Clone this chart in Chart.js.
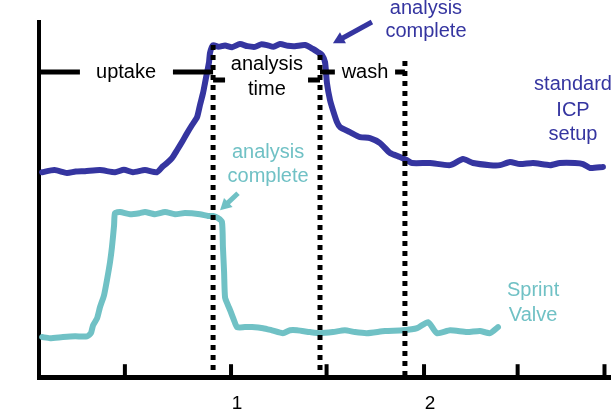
<!DOCTYPE html>
<html>
<head>
<meta charset="utf-8">
<script src="https://cdn.jsdelivr.net/npm/chart.js@4.4.1/dist/chart.umd.min.js"></script>
<style>
  html, body { margin: 0; padding: 0; background: #fff; overflow: hidden; }
  #wrap { width: 611px; height: 409px; overflow: hidden; }
  canvas { display: block; }
</style>
</head>
<body>
<div id="wrap"><canvas id="chart" width="640" height="430"></canvas></div>
<script>
// Standard ICP setup (blue trace)
const icpTime = [0.016, 0.080, 0.145, 0.190, 0.238, 0.316, 0.394, 0.440, 0.487, 0.549, 0.611, 0.642, 0.663, 0.689,
  0.715, 0.741, 0.767, 0.793, 0.819, 0.834, 0.850, 0.860, 0.870, 0.881, 0.886, 0.902, 0.930, 0.964, 1.000, 1.041,
  1.080, 1.119, 1.150, 1.181, 1.215, 1.249, 1.290, 1.326, 1.378, 1.420, 1.446, 1.466, 1.482, 1.492, 1.508, 1.523,
  1.544, 1.560, 1.611, 1.663, 1.715, 1.767, 1.819, 1.870, 1.907, 1.933, 2.026, 2.130, 2.197, 2.249, 2.337, 2.389,
  2.440, 2.492, 2.560, 2.648, 2.699, 2.777, 2.819, 2.855, 2.922];
const icpSignal = [57.7, 58.3, 57.5, 57.9, 58.0, 58.3, 57.7, 58.4, 57.7, 58.3, 57.7, 59.4, 60.3, 61.7,
  63.9, 66.2, 68.7, 71.0, 73.2, 76.6, 80.0, 82.8, 85.6, 88.7, 91.3, 93.5, 93.0, 93.4, 92.9, 93.8,
  93.2, 93.0, 93.7, 93.5, 93.0, 93.8, 93.3, 93.2, 93.5, 92.4, 91.5, 90.7, 88.7, 82.8, 78.0, 75.2,
  71.8, 70.4, 69.0, 67.6, 67.3, 65.9, 63.1, 62.0, 61.1, 60.3, 60.3, 59.7, 61.4, 60.3, 59.7, 59.7,
  60.6, 60.0, 60.3, 59.7, 60.3, 60.3, 60.0, 58.9, 59.2];

// Sprint Valve (cyan trace)
const valveTime = [0.016, 0.057, 0.124, 0.187, 0.249, 0.269, 0.280, 0.301, 0.316, 0.337, 0.352, 0.368, 0.378, 0.389,
  0.394, 0.420, 0.472, 0.523, 0.549, 0.601, 0.653, 0.705, 0.756, 0.834, 0.876, 0.902, 0.927, 0.948, 0.953, 0.959,
  0.964, 0.979, 0.990, 1.010, 1.026, 1.067, 1.104, 1.161, 1.207, 1.264, 1.301, 1.337, 1.404, 1.456, 1.523, 1.585,
  1.637, 1.699, 1.793, 1.886, 1.959, 2.016, 2.062, 2.130, 2.218, 2.285, 2.337, 2.378];
const valveSignal = [11.3, 11.0, 11.3, 11.5, 11.5, 12.4, 14.6, 16.6, 19.7, 23.1, 27.3, 32.4, 36.6, 42.8,
  46.2, 46.5, 45.9, 46.2, 46.5, 45.9, 46.5, 45.9, 46.2, 45.9, 45.4, 45.4, 44.8, 43.7, 36.6, 29.6,
  22.5, 20.3, 18.9, 16.1, 14.1, 14.1, 14.1, 13.8, 13.2, 12.4, 13.2, 13.2, 12.7, 12.4, 12.7, 13.2,
  12.7, 12.4, 13.0, 13.2, 13.8, 15.5, 12.4, 13.2, 12.7, 13.0, 12.4, 14.1];

// dotted phase dividers
const dividerTime = [0.902, 1.456, 1.896];
const dividerTop = [93.5, 90.7, 89.0];

// phase bracket segments
const bracketStart = [0, 0.694, 0.902, 1.394, 1.456, 1.845];
const bracketEnd = [0.212, 0.902, 0.964, 1.456, 1.533, 1.896];
const bracketLevel = [85.9, 85.9, 83.7, 83.7, 85.9, 85.9];

// axis ticks
const tickMarks = [0.445, 0.995, 1.49, 1.995, 2.48, 2.93];
const tickLabels = [1, 2, 3];

const BLUE = '#3535a0';
const CYAN = '#70c1c5';
const FONT = '"Liberation Sans", Arial, sans-serif';

const notes = [
  { lines: ['uptake'], x: 0.451, y: 85.9, color: '#000' },
  { lines: ['analysis', 'time'], x: 1.181, y: [87.9, 80.9], color: '#000' },
  { lines: ['wash'], x: 1.689, y: 85.9, color: '#000' },
  { lines: ['analysis', 'complete'], x: 2.005, y: [103.9, 97.2], color: BLUE },
  { lines: ['standard', 'ICP', 'setup'], x: 2.767, y: [82.3, 75.2, 68.2], color: BLUE },
  { lines: ['analysis', 'complete'], x: 1.187, y: [63.4, 56.6], color: CYAN },
  { lines: ['Sprint', 'Valve'], x: 2.560, y: [24.5, 17.5], color: CYAN }
];

const arrows = [
  { from: [1.725, 100.0], to: [1.523, 94.0], color: BLUE },
  { from: [1.031, 51.8], to: [0.938, 47.0], color: CYAN }
];

const zip = (xs, ys) => xs.map((x, i) => ({ x: x, y: ys[i] }));

const datasets = [];
dividerTime.forEach((t, i) => {
  datasets.push({
    data: [{ x: t, y: dividerTop[i] }, { x: t, y: 0 }],
    borderColor: '#000', borderWidth: 5, borderDash: [5, 5], borderCapStyle: 'butt',
    pointRadius: 0, tension: 0
  });
});
bracketStart.forEach((s, i) => {
  datasets.push({
    data: [{ x: s, y: bracketLevel[i] }, { x: bracketEnd[i], y: bracketLevel[i] }],
    borderColor: '#000', borderWidth: 5, borderCapStyle: 'butt',
    pointRadius: 0, tension: 0
  });
});
datasets.push({
  label: 'standard ICP setup', data: zip(icpTime, icpSignal),
  borderColor: BLUE, borderWidth: 6, borderJoinStyle: 'round', borderCapStyle: 'round',
  pointRadius: 0, tension: 0.2
});
datasets.push({
  label: 'Sprint Valve', data: zip(valveTime, valveSignal),
  borderColor: CYAN, borderWidth: 6, borderJoinStyle: 'round', borderCapStyle: 'round',
  pointRadius: 0, tension: 0.2
});

const decorations = {
  id: 'decorations',
  afterDraw(chart) {
    const { ctx, scales: { x, y }, chartArea } = chart;
    ctx.save();
    // inward tick marks on the time axis
    ctx.strokeStyle = '#000';
    ctx.lineWidth = 4;
    tickMarks.forEach(v => {
      const px = x.getPixelForValue(v);
      ctx.beginPath();
      ctx.moveTo(px, chartArea.bottom);
      ctx.lineTo(px, chartArea.bottom - 13);
      ctx.stroke();
    });
    // text notes
    ctx.font = '20px ' + FONT;
    ctx.textAlign = 'center';
    ctx.textBaseline = 'middle';
    notes.forEach(n => {
      ctx.fillStyle = n.color;
      const ys = Array.isArray(n.y) ? n.y : [n.y];
      n.lines.forEach((line, i) => {
        ctx.fillText(line, x.getPixelForValue(n.x), y.getPixelForValue(ys[i]));
      });
    });
    // arrows
    arrows.forEach(a => {
      const x1 = x.getPixelForValue(a.from[0]), y1 = y.getPixelForValue(a.from[1]);
      const x2 = x.getPixelForValue(a.to[0]), y2 = y.getPixelForValue(a.to[1]);
      const ang = Math.atan2(y2 - y1, x2 - x1);
      const head = 13;
      ctx.strokeStyle = a.color;
      ctx.fillStyle = a.color;
      ctx.lineWidth = 5;
      ctx.beginPath();
      ctx.moveTo(x1, y1);
      ctx.lineTo(x2 - Math.cos(ang) * head * 0.7, y2 - Math.sin(ang) * head * 0.7);
      ctx.stroke();
      ctx.beginPath();
      ctx.moveTo(x2, y2);
      ctx.lineTo(x2 - head * Math.cos(ang - 0.5), y2 - head * Math.sin(ang - 0.5));
      ctx.lineTo(x2 - head * Math.cos(ang + 0.5), y2 - head * Math.sin(ang + 0.5));
      ctx.closePath();
      ctx.fill();
    });
    ctx.restore();
  }
};

new Chart(document.getElementById('chart').getContext('2d'), {
  type: 'line',
  data: { datasets: datasets },
  options: {
    responsive: false,
    animation: false,
    devicePixelRatio: 1,
    layout: { padding: { left: 39, top: 22, right: 0, bottom: 0 } },
    plugins: { legend: { display: false }, tooltip: { enabled: false } },
    scales: {
      x: {
        type: 'linear', min: 0, max: 3.114,
        grid: { display: false, drawTicks: false },
        border: { display: true, color: '#000', width: 5 },
        afterBuildTicks: scale => { scale.ticks = tickLabels.map(v => ({ value: v })); },
        ticks: {
          color: '#000', padding: 15, autoSkip: false, maxRotation: 0, labelOffset: 5,
          font: { family: FONT, size: 19 },
          callback: v => String(v)
        }
      },
      y: {
        min: 0, max: 100,
        grid: { display: false, drawTicks: false },
        border: { display: true, color: '#000', width: 4 },
        ticks: { display: false }
      }
    }
  },
  plugins: [decorations]
});
</script>
</body>
</html>
